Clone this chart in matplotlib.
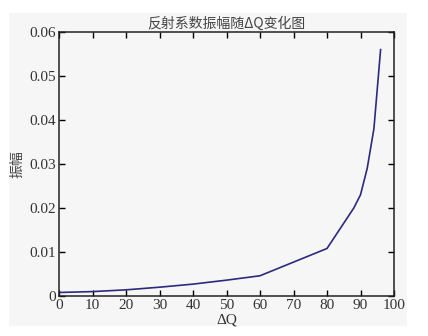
import matplotlib
matplotlib.use('Agg')
import matplotlib.pyplot as plt

# data
dq = [0, 10, 20, 30, 40, 50, 60, 70, 80, 88, 90, 92, 94, 96]
amp = [0.0008, 0.001, 0.0014, 0.002, 0.0027, 0.0036, 0.0046, 0.0077, 0.0108,
       0.020, 0.023, 0.029, 0.038, 0.056]
xticks = [0, 10, 20, 30, 40, 50, 60, 70, 80, 90, 100]
yticks = [0, 0.01, 0.02, 0.03, 0.04, 0.05, 0.06]
ytick_labels = ['0', '0.01', '0.02', '0.03', '0.04', '0.05', '0.06']

serif = ['Liberation Serif', 'DejaVu Serif']
cjk = ['Noto Sans CJK SC', 'DejaVu Sans']

fig = plt.figure(figsize=(4.28, 3.36), dpi=100)
fig.patch.set_facecolor('white')

# grey panel behind everything
bg = fig.add_axes([9 / 428, 10 / 336, 398 / 428, 313 / 336], zorder=-1)
bg.set_facecolor('#f6f6f6')
bg.set_xticks([])
bg.set_yticks([])
for s in bg.spines.values():
    s.set_visible(False)

ax = fig.add_axes([59 / 428, 40 / 336, 335 / 428, 264 / 336], zorder=1)
ax.set_facecolor('#f6f6f6')
ax.plot(dq, amp, color='#2b2a7e', linewidth=1.2)

ax.set_xlim(0, 100)
ax.set_ylim(0, 0.06)
ax.set_xticks(xticks)
ax.set_xticklabels([str(t) for t in xticks], family=serif, fontsize=11, color='#333333')
ax.set_yticks(yticks)
ax.set_yticklabels(ytick_labels, family=serif, fontsize=11, color='#333333')
ax.tick_params(direction='in', top=True, right=True, length=4, width=1, pad=2)
for s in ax.spines.values():
    s.set_linewidth(1.1)
    s.set_color('#222222')

ax.set_title('反射系数振幅随ΔQ变化图', family=cjk, fontsize=10, color='#444444', pad=3)
ax.set_xlabel('ΔQ', family=serif, fontsize=11, color='#333333', labelpad=1.5)
ax.set_ylabel('振幅', family=cjk, fontsize=10, color='#444444', labelpad=4)

fig.savefig('out.png', dpi=100, facecolor=fig.get_facecolor())
